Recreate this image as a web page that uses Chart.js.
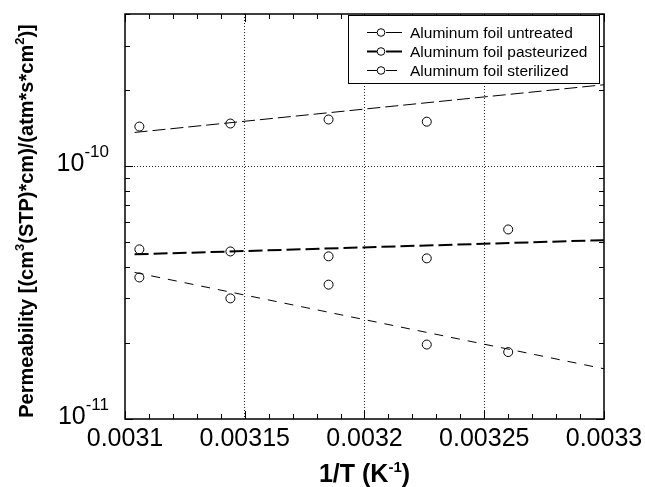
<!DOCTYPE html>
<html>
<head>
<meta charset="utf-8">
<script src="https://cdn.jsdelivr.net/npm/chart.js@4/dist/chart.umd.min.js"></script>
<style>
  html, body { margin: 0; padding: 0; background: #fff; }
  #chart { display: block; }
</style>
</head>
<body>
<canvas id="chart" width="645" height="487"></canvas>
<script>
// measured points, 1/T (K^-1) vs permeability
var xUntreated = [0.003106, 0.003144, 0.003185, 0.003226];
var yUntreated = [1.435e-10, 1.475e-10, 1.53e-10, 1.50e-10];
var xPasteurized = [0.003106, 0.003144, 0.003185, 0.003226, 0.00326];
var yPasteurized = [4.69e-11, 4.60e-11, 4.40e-11, 4.32e-11, 5.62e-11];
var xSterilized = [0.003106, 0.003144, 0.003185, 0.003226, 0.00326];
var ySterilized = [3.63e-11, 3.00e-11, 3.40e-11, 1.97e-11, 1.84e-11];

// fitted lines, read at both ends
var xFit = [0.003104, 0.0033];
var yFitUntreated = [1.36e-10, 2.10e-10];
var yFitPasteurized = [4.48e-11, 5.10e-11];
var yFitSterilized = [3.80e-11, 1.58e-11];

var seriesNames = ['Aluminum foil untreated', 'Aluminum foil pasteurized', 'Aluminum foil sterilized'];
var xTickValues = [0.0031, 0.00315, 0.0032, 0.00325, 0.0033];
var xTickLabels = ['0.0031', '0.00315', '0.0032', '0.00325', '0.0033'];
var yTickValues = [1e-11, 1e-10];
var yTickExponents = ['-11', '-10'];

var fitStyles = [
    { width: 1, dash: [13, 5] },
    { width: 2, dash: [14, 5] },
    { width: 1, dash: [9, 8] }
];

function toPoints(xs, ys) {
    return xs.map(function (x, i) { return { x: x, y: ys[i] }; });
}

function markerSet(xs, ys) {
    return {
        data: toPoints(xs, ys),
        showLine: false,
        pointStyle: 'circle',
        pointRadius: 4.5,
        pointBorderWidth: 1,
        pointBorderColor: '#000',
        pointBackgroundColor: 'rgba(0,0,0,0)'
    };
}

function fitSet(ys, style) {
    return {
        data: toPoints(xFit, ys),
        showLine: true,
        pointRadius: 0,
        borderColor: '#000',
        borderWidth: style.width,
        borderDash: style.dash,
        fill: false
    };
}

// draw text made of normal and superscript pieces, starting at x
function drawPieces(ctx, pieces, x, y, font, supFont, rise) {
    pieces.forEach(function (p) {
        ctx.font = p.sup ? supFont : font;
        ctx.fillText(p.t, x, p.sup ? y - rise : y);
        x += ctx.measureText(p.t).width;
    });
}

function piecesWidth(ctx, pieces, font, supFont) {
    var w = 0;
    pieces.forEach(function (p) {
        ctx.font = p.sup ? supFont : font;
        w += ctx.measureText(p.t).width;
    });
    return w;
}

function line(ctx, x1, y1, x2, y2) {
    ctx.beginPath();
    ctx.moveTo(x1, y1);
    ctx.lineTo(x2, y2);
    ctx.stroke();
}

var decorations = {
    id: 'decorations',
    afterDraw: function (chart) {
        var ctx = chart.ctx;
        var a = chart.chartArea;
        var xs = chart.scales.x;
        var ys = chart.scales.y;
        var i, v, p;

        ctx.save();
        ctx.fillStyle = '#000';
        ctx.strokeStyle = '#000';
        ctx.setLineDash([]);

        // frame
        ctx.lineWidth = 1.5;
        ctx.strokeRect(a.left, a.top, a.right - a.left, a.bottom - a.top);

        // inward ticks on x (top and bottom)
        ctx.lineWidth = 1;
        for (i = 0; i <= 20; i++) {
            v = 0.0031 + i * 0.00001;
            p = Math.round(xs.getPixelForValue(v)) + 0.5;
            var len = i % 5 === 0 ? 8 : 5;
            line(ctx, p, a.bottom, p, a.bottom - len);
            line(ctx, p, a.top, p, a.top + len);
        }
        // inward ticks on y (left and right)
        for (var e = -11; e <= -10; e++) {
            for (var m = 1; m <= 9; m++) {
                v = m * Math.pow(10, e);
                if (v > ys.max * 1.0001) break;
                p = Math.round(ys.getPixelForValue(v)) + 0.5;
                var ylen = m === 1 ? 8 : 5;
                line(ctx, a.left, p, a.left + ylen, p);
                line(ctx, a.right, p, a.right - ylen, p);
            }
        }

        // x tick labels
        ctx.font = '25px "Liberation Sans", Arial, sans-serif';
        ctx.textAlign = 'center';
        ctx.textBaseline = 'alphabetic';
        xTickValues.forEach(function (val, k) {
            ctx.fillText(xTickLabels[k], xs.getPixelForValue(val), a.bottom + 27);
        });

        // y tick labels, 10 with exponent
        ctx.textAlign = 'left';
        var baseFont = '25px "Liberation Sans", Arial, sans-serif';
        var expFont = '17px "Liberation Sans", Arial, sans-serif';
        yTickValues.forEach(function (val, k) {
            var pieces = [{ t: '10' }, { t: yTickExponents[k], sup: true }];
            var w = piecesWidth(ctx, pieces, baseFont, expFont);
            var py = ys.getPixelForValue(val);
            drawPieces(ctx, pieces, a.left - 16 - w, py + 5, baseFont, expFont, 14);
        });

        // x title
        var xtFont = 'bold 25px "Liberation Sans", Arial, sans-serif';
        var xtSup = 'bold 15px "Liberation Sans", Arial, sans-serif';
        var xt = [{ t: '1/T (K' }, { t: '-1', sup: true }, { t: ')' }];
        var xw = piecesWidth(ctx, xt, xtFont, xtSup);
        drawPieces(ctx, xt, (a.left + a.right) / 2 - xw / 2, 482, xtFont, xtSup, 10);

        // y title, rotated
        var ytFont = 'bold 20px "Liberation Sans", Arial, sans-serif';
        var ytSup = 'bold 13px "Liberation Sans", Arial, sans-serif';
        var yt = [
            { t: 'Permeability [(cm' }, { t: '3', sup: true },
            { t: '(STP)*cm)/(atm*s*cm' }, { t: '2', sup: true }, { t: ')]' }
        ];
        var yw = piecesWidth(ctx, yt, ytFont, ytSup);
        ctx.save();
        ctx.translate(33, 221);
        ctx.rotate(-Math.PI / 2);
        drawPieces(ctx, yt, -yw / 2, 0, ytFont, ytSup, 9);
        ctx.restore();

        // legend
        var lx = 348, ly = 15, lw = 251, lh = 68;
        ctx.fillStyle = '#fff';
        ctx.fillRect(lx, ly, lw, lh);
        ctx.fillStyle = '#000';
        ctx.lineWidth = 1;
        ctx.strokeRect(lx + 0.5, ly + 0.5, lw, lh);
        ctx.font = '15.5px "Liberation Sans", Arial, sans-serif';
        ctx.textBaseline = 'middle';
        seriesNames.forEach(function (name, k) {
            var ry = 32.5 + k * 19;
            var st = fitStyles[k];
            ctx.lineWidth = st.width;
            ctx.setLineDash([]);
            line(ctx, 367, ry, 377, ry);
            line(ctx, 386, ry, k === 2 ? 397 : 402, ry);
            ctx.lineWidth = 1;
            ctx.beginPath();
            ctx.arc(381, ry, 3.8, 0, Math.PI * 2);
            ctx.fillStyle = '#fff';
            ctx.fill();
            ctx.stroke();
            ctx.fillStyle = '#000';
            ctx.fillText(name, 410, ry + 1);
        });

        ctx.restore();
    }
};

function gridColor(isMajor) {
    return function (c) {
        if (!c.tick) return 'rgba(0,0,0,0)';
        return isMajor(c.tick.value) ? '#222' : 'rgba(0,0,0,0)';
    };
}

var chart = new Chart(document.getElementById('chart'), {
    type: 'scatter',
    data: {
        datasets: [
            fitSet(yFitUntreated, fitStyles[0]),
            fitSet(yFitPasteurized, fitStyles[1]),
            fitSet(yFitSterilized, fitStyles[2]),
            markerSet(xUntreated, yUntreated),
            markerSet(xPasteurized, yPasteurized),
            markerSet(xSterilized, ySterilized)
        ]
    },
    options: {
        responsive: false,
        animation: false,
        devicePixelRatio: 1,
        layout: { padding: { left: 125, top: 14, right: 41, bottom: 68 } },
        plugins: { legend: { display: false }, tooltip: { enabled: false } },
        scales: {
            x: {
                type: 'linear',
                min: 0.0031,
                max: 0.0033,
                ticks: { display: false, stepSize: 0.00005 },
                grid: {
                    drawTicks: false,
                    lineWidth: 1,
                    color: gridColor(function (v) {
                        return v > 0.003101 && v < 0.003299;
                    })
                },
                border: { display: false, dash: [1, 2] }
            },
            y: {
                type: 'logarithmic',
                min: 1e-11,
                max: 4e-10,
                ticks: { display: false },
                grid: {
                    drawTicks: false,
                    lineWidth: 1,
                    color: gridColor(function (v) {
                        return Math.abs(Math.log10(v) + 10) < 1e-6;
                    })
                },
                border: { display: false, dash: [1, 2] }
            }
        }
    },
    plugins: [decorations]
});
</script>
</body>
</html>
